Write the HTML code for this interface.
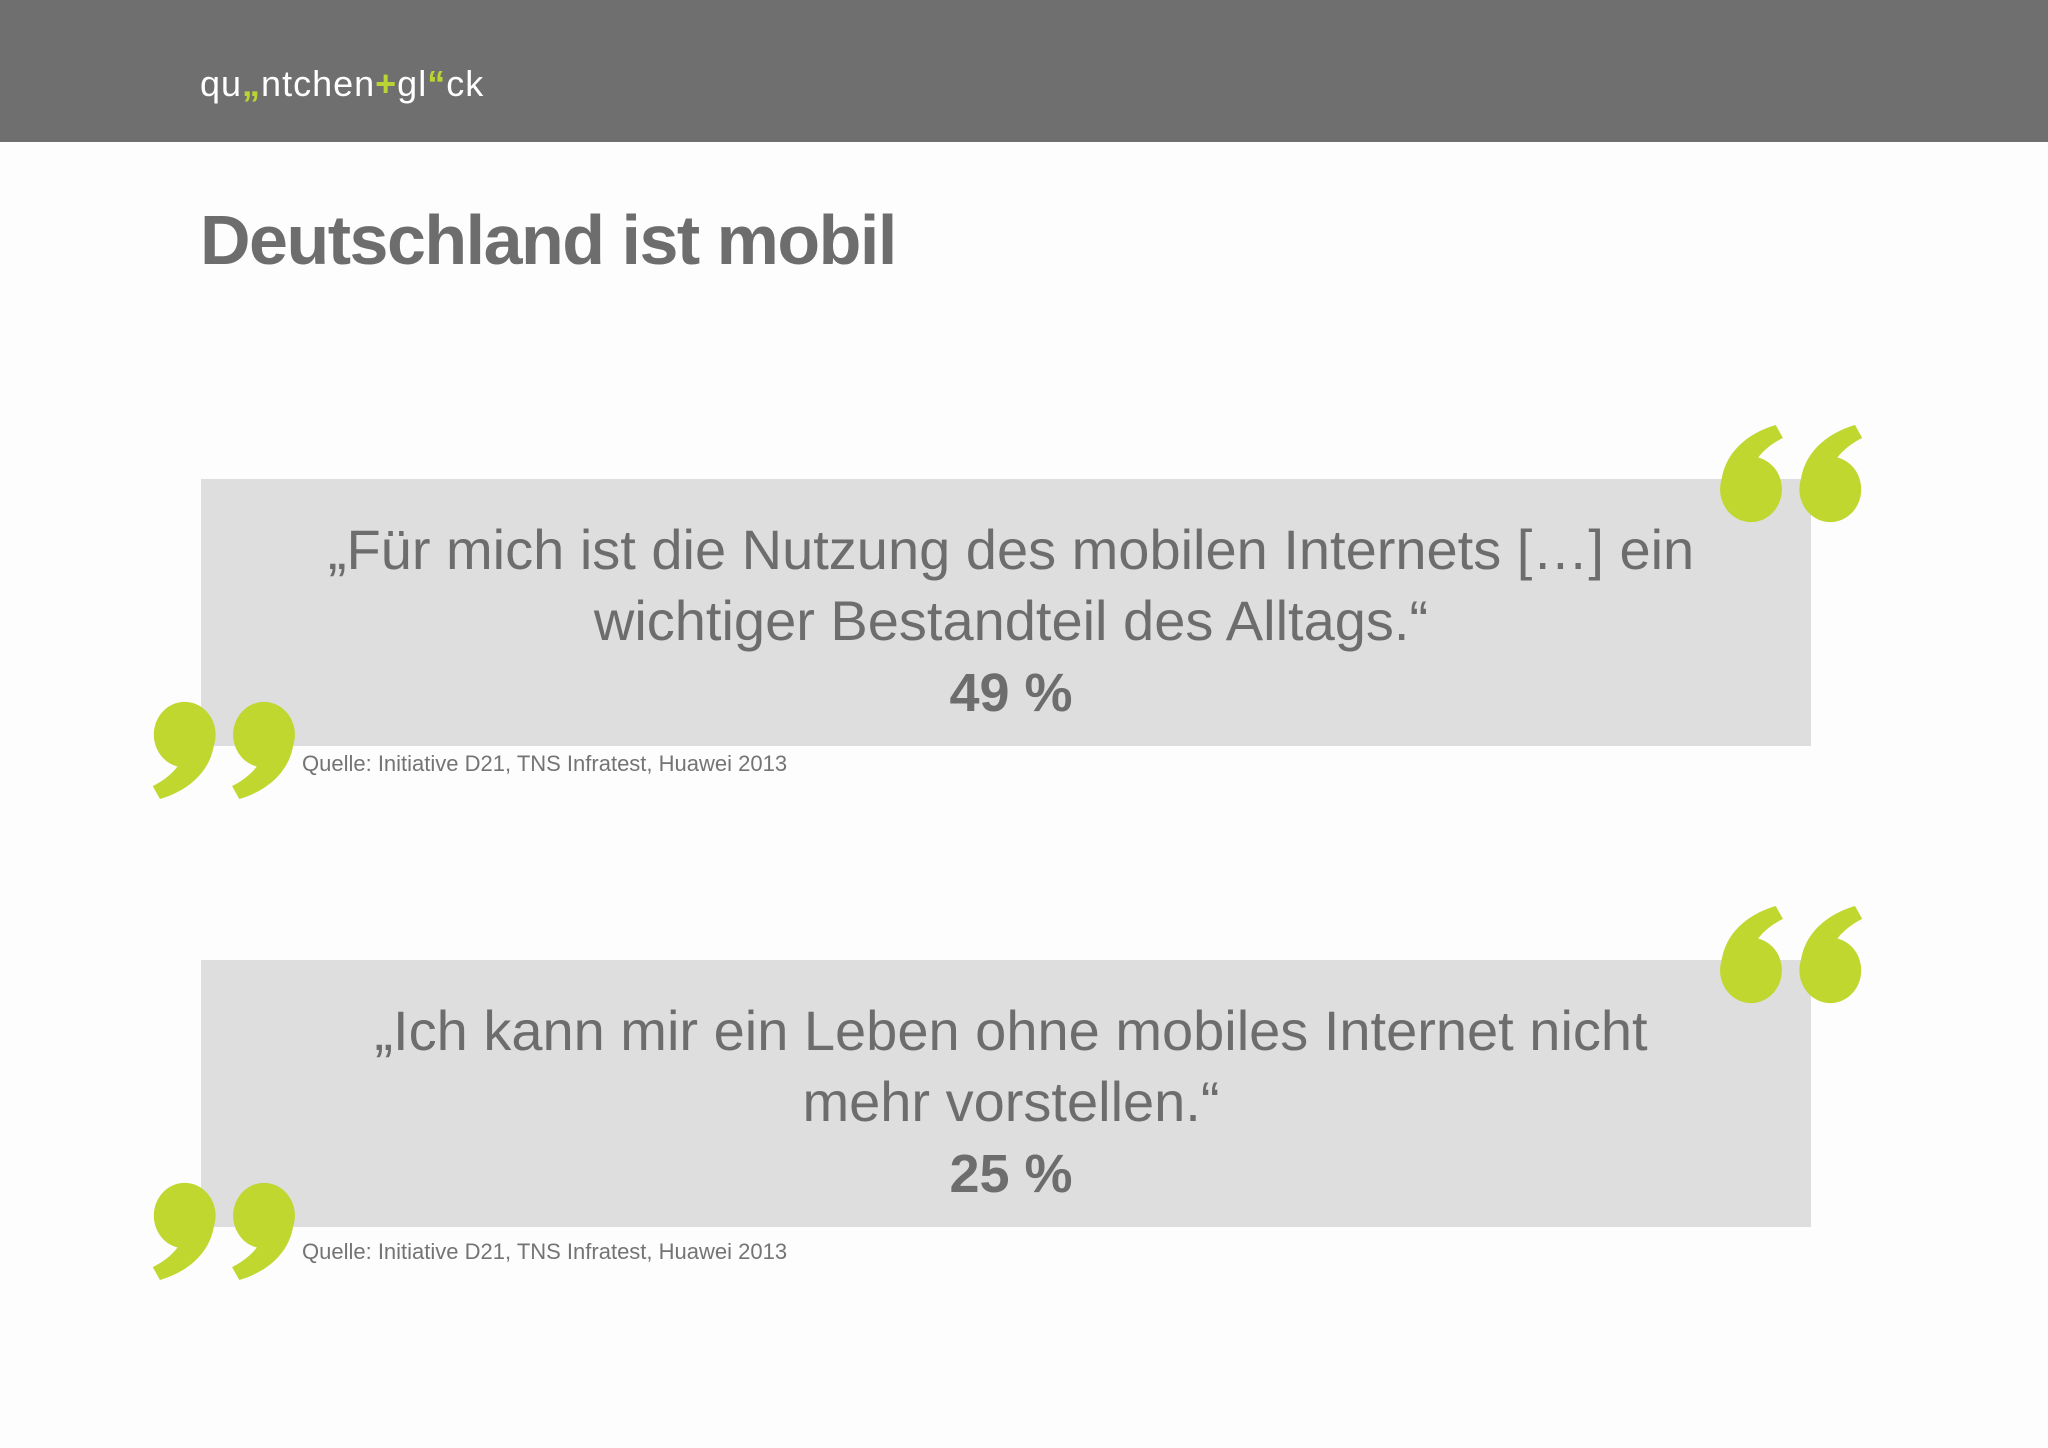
<!DOCTYPE html>
<html><head><meta charset="utf-8"><style>
body{margin:0;width:2048px;height:1448px;background:#fdfdfd;position:relative;overflow:hidden;font-family:"Liberation Sans",sans-serif}
.hdr{position:absolute;left:0;top:0;width:2048px;height:142px;background:#6f6f70}
.logo{position:absolute;left:200px;top:63px;font-size:36px;color:#fff;letter-spacing:1px}
.g{color:#b9d433;font-weight:bold}
h1{position:absolute;left:200px;top:200px;margin:0;font-size:70px;font-weight:bold;color:#6d6d6e;letter-spacing:-1.5px}
.box{position:absolute;left:201px;width:1610px;height:267px;background:#dededf}
.q{position:absolute;left:201px;width:1620px;text-align:center;color:#6d6d6e;font-size:56px;line-height:71px}
.q b{font-size:54px}
.src{position:absolute;left:302px;font-size:22px;color:#747475}
svg.m{position:absolute}
</style></head><body>
<div class="hdr"></div>
<div class="logo">qu<span class="g">„</span>ntchen<span class="g">+</span>gl<span class="g">“</span>ck</div>
<h1>Deutschland ist mobil</h1>

<div class="box" style="top:479px"></div>
<div class="q" style="top:514px">„Für mich ist die Nutzung des mobilen Internets […] ein<br>wichtiger Bestandteil des Alltags.“<br><b>49 %</b></div>
<div class="src" style="top:751px">Quelle: Initiative D21, TNS Infratest, Huawei 2013</div>

<div class="box" style="top:960px"></div>
<div class="q" style="top:995px">„Ich kann mir ein Leben ohne mobiles Internet nicht<br>mehr vorstellen.“<br><b>25 %</b></div>
<div class="src" style="top:1239px">Quelle: Initiative D21, TNS Infratest, Huawei 2013</div>

<svg width="0" height="0" style="position:absolute"><defs>
<g id="six"><ellipse cx="33" cy="55" rx="30" ry="28" fill="#bfd72f"/><path d="M4,58 C2,28 26,8 57,0 L64,11 C46,19 38,29 36,34 Z" fill="#bfd72f"/></g>
<g id="pair" transform="scale(1.03,1.17)"><use href="#six"/><use href="#six" x="77"/></g>
</defs></svg>

<svg class="m" style="left:1717px;top:425px" width="150" height="100"><use href="#pair"/></svg>
<svg class="m" style="left:148px;top:699px" width="150" height="100"><g transform="rotate(180 75 50)"><use href="#pair"/></g></svg>
<svg class="m" style="left:1717px;top:906px" width="150" height="100"><use href="#pair"/></svg>
<svg class="m" style="left:148px;top:1180px" width="150" height="100"><g transform="rotate(180 75 50)"><use href="#pair"/></g></svg>
</body></html>
